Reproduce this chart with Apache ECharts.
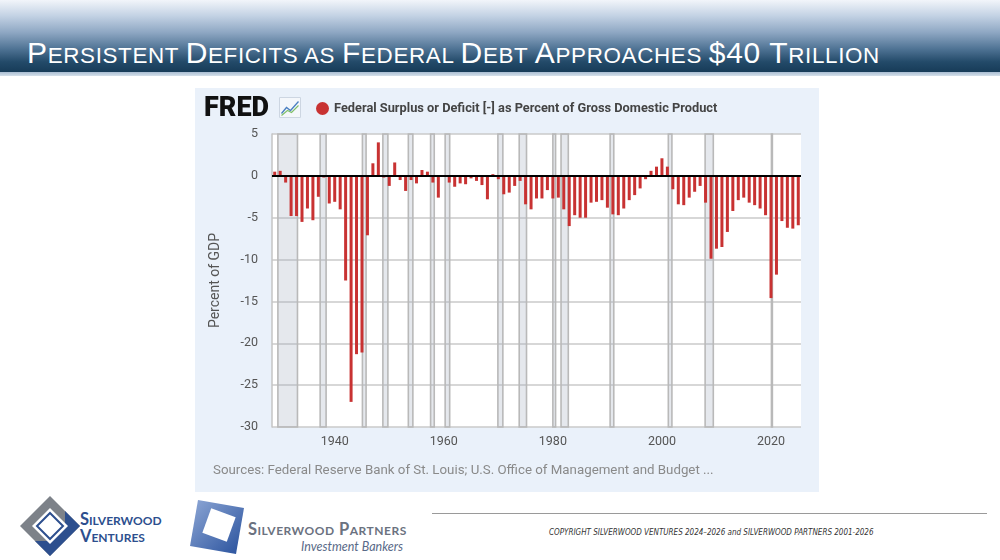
<!DOCTYPE html>
<html>
<head>
	<meta charset="utf-8">
	<title>Persistent Deficits</title>
	<script src="https://cdn.jsdelivr.net/npm/echarts@6/dist/echarts.min.js"></script>
	<style>
		body { margin: 0; width: 1000px; height: 560px; overflow: hidden; background: #fff; position: relative; font-family: "Liberation Sans", Arial, sans-serif; }
		#banner { position: absolute; left: 0; top: 0; width: 1000px; height: 72px;
			background: linear-gradient(to bottom, #f2f5fa 0%, #c3d2e4 22%, #8ea7c3 45%, #4f7394 68%, #234a69 86%, #173b58 100%); }
		#strip { position: absolute; left: 0; top: 72px; width: 1000px; height: 4px;
			background: linear-gradient(to bottom, #a9bdd2, #d5e0ea); }
		#title { position: absolute; left: 27px; top: 36px; color: #fff; font-family: "Liberation Sans", Arial, sans-serif;
			font-size: 22.4px; letter-spacing: 0.65px; white-space: nowrap; line-height: normal; }
		#title .b { font-size: 30px; }
		#chart { position: absolute; left: 195px; top: 88px; width: 624px; height: 404px; background: #eaf1fa; }
		#rule { position: absolute; left: 432px; top: 513px; width: 555px; height: 1px; background: #9a9a9a; }
		#copy { position: absolute; left: 549px; top: 528px; font-family: "Liberation Sans Narrow", "DejaVu Sans Condensed", sans-serif;
			font-style: italic; font-size: 8px; color: #333; white-space: nowrap; }
		.logo-text { position: absolute; white-space: nowrap; font-family: "Lato", "Open Sans", sans-serif; font-weight: 700; }
	</style>
</head>

<body>
	<div id="banner"></div>
	<div id="strip"></div>
	<div id="title"><span class="b">P</span>ERSISTENT <span class="b">D</span>EFICITS AS <span class="b">F</span>EDERAL <span class="b">D</span>EBT <span class="b">A</span>PPROACHES <span class="b">$40 T</span>RILLION</div>

	<div id="chart"></div>

	<!-- logos -->
	<svg style="position:absolute;left:18px;top:494px" width="64" height="64" viewBox="0 0 64 64">
		<polygon points="32,2 62,32 32,62 2,32" fill="#7d8289"/>
		<polygon points="47,17 62,32 32,62 17,47 32,47 47,32" fill="#2d4f8e"/>
		<polygon points="32,14 50,32 32,50 14,32" fill="#fff"/>
		<polygon points="32,19 45,32 32,45 19,32" fill="none" stroke="#2d4f8e" stroke-width="2"/>
	</svg>
	<div class="logo-text" style="left:80px;top:509px;color:#2d4f8e;font-size:16.5px;font-variant:small-caps;">Silverwood</div>
	<div class="logo-text" style="left:80px;top:526px;color:#2d4f8e;font-size:16.5px;font-variant:small-caps;">Ventures</div>

	<svg style="position:absolute;left:188px;top:498px" width="58" height="58" viewBox="0 0 58 58">
		<defs>
			<linearGradient id="pg" x1="0" y1="0" x2="1" y2="1">
				<stop offset="0" stop-color="#8fa8d6"/>
				<stop offset="1" stop-color="#27509c"/>
			</linearGradient>
		</defs>
		<polygon points="10,2 56,10 48,56 2,48" fill="url(#pg)"/>
		<polygon points="18,14 44,14 44,40 18,40" fill="#fff" transform="rotate(20 31 27)"/>
	</svg>
	<div class="logo-text" style="left:248px;top:519px;color:#6b7280;font-size:16.5px;font-variant:small-caps;letter-spacing:0.5px;">Silverwood Partners</div>
	<div class="logo-text" style="left:301px;top:539px;color:#5a6a88;font-size:12.5px;font-weight:400;font-style:italic;">Investment Bankers</div>

	<div id="rule"></div>
	<div id="copy">COPYRIGHT SILVERWOOD VENTURES 2024–2026 and SILVERWOOD PARTNERS 2001-2026</div>

	<script>

		// fiscal years shown on the FRED chart
		var years = [
			1929, 1930, 1931, 1932, 1933, 1934, 1935, 1936, 1937, 1938, 1939,
			1940, 1941, 1942, 1943, 1944, 1945, 1946, 1947, 1948, 1949,
			1950, 1951, 1952, 1953, 1954, 1955, 1956, 1957, 1958, 1959,
			1960, 1961, 1962, 1963, 1964, 1965, 1966, 1967, 1968, 1969,
			1970, 1971, 1972, 1973, 1974, 1975, 1976, 1977, 1978, 1979,
			1980, 1981, 1982, 1983, 1984, 1985, 1986, 1987, 1988, 1989,
			1990, 1991, 1992, 1993, 1994, 1995, 1996, 1997, 1998, 1999,
			2000, 2001, 2002, 2003, 2004, 2005, 2006, 2007, 2008, 2009,
			2010, 2011, 2012, 2013, 2014, 2015, 2016, 2017, 2018, 2019,
			2020, 2021, 2022, 2023, 2024, 2025
		]

		// surplus (+) or deficit (-), percent of GDP
		var surplus = [
			0.5, 0.6, -0.8, -4.8, -4.8, -5.5, -3.9, -5.3, -2.5, -0.2, -3.3,
			-3.1, -4.0, -12.5, -27.0, -21.3, -21.1, -7.1, 1.5, 4.0, -0.2,
			-1.2, 1.6, -0.5, -1.8, -0.5, -0.9, 0.7, 0.5, -0.8, -2.6,
			0.1, -0.8, -1.3, -0.9, -1.0, -0.3, -0.6, -1.1, -2.8, 0.2,
			-0.4, -2.2, -2.0, -1.2, -0.6, -3.4, -4.0, -2.7, -2.7, -1.7,
			-2.7, -2.6, -4.0, -6.0, -4.7, -5.0, -5.0, -3.2, -3.1, -2.9,
			-3.8, -4.6, -4.7, -3.9, -2.9, -2.3, -1.5, -0.4, 0.6, 1.1,
			2.1, 1.1, -1.6, -3.4, -3.5, -2.6, -1.9, -1.2, -3.2, -9.9,
			-8.7, -8.5, -6.7, -4.2, -2.9, -2.6, -3.2, -3.5, -3.9, -4.7,
			-14.6, -11.8, -5.4, -6.2, -6.3, -5.9
		]

		// recession periods (start, end) as decimal years
		var recessions = [
			[1929.58, 1933.17], [1937.33, 1938.42], [1945.08, 1945.75], [1948.83, 1949.75],
			[1953.5, 1954.33], [1957.58, 1958.25], [1960.25, 1961.08], [1969.92, 1970.83],
			[1973.83, 1975.17], [1980.0, 1980.5], [1981.5, 1982.83], [1990.5, 1991.17],
			[2001.17, 2001.83], [2007.92, 2009.42], [2020.08, 2020.25]
		]

		var xTicks = [1940, 1960, 1980, 2000, 2020]

		var seriesName = "Federal Surplus or Deficit [-] as Percent of Gross Domestic Product"

		var barData = years.map(function (y, i) { return [y, surplus[i]] })
		var bands = recessions.map(function (r) { return [{ xAxis: r[0] }, { xAxis: r[1] }] })

		var mCharts = echarts.init(document.getElementById("chart"))

		var opt = {
			animation: false,
			textStyle: { fontFamily: "Roboto, 'Open Sans', sans-serif" },
			grid: {
				left: 77, right: 18, top: 46, bottom: 65,
				show: true, backgroundColor: "#fff", borderWidth: 0
			},
			legend: {
				data: [seriesName],
				left: 116, top: 9,
				icon: "circle",
				itemWidth: 13, itemHeight: 13,
				itemGap: 6,
				textStyle: { fontSize: 12.8, fontWeight: "bold", color: "#444", fontFamily: "Roboto, sans-serif" }
			},
			graphic: [
				{
					type: "text", left: 9, top: 8,
					style: { text: "FRED", fontSize: 27, fontWeight: 900, fill: "#111", fontFamily: "Roboto, Inter, sans-serif" }
				},
				{
					type: "group", left: 84, top: 9,
					children: [
						{ type: "rect", shape: { x: 0, y: 0, width: 21, height: 20 }, style: { fill: "#f4f7fb", stroke: "#cdd6e2", lineWidth: 1 } },
						{ type: "polyline", shape: { points: [[2, 16], [7, 10], [11, 13], [19, 4]] }, style: { stroke: "#4a7fc1", lineWidth: 1.3, fill: null } },
						{ type: "polyline", shape: { points: [[2, 18], [8, 13], [12, 15], [19, 8]] }, style: { stroke: "#7fbf6a", lineWidth: 1.1, fill: null } }
					]
				},
				{
					type: "text", left: 18, top: 376,
					style: { text: "Sources: Federal Reserve Bank of St. Louis; U.S. Office of Management and Budget ...", fontSize: 13.3, fill: "#8a8a8a", fontFamily: "Roboto, sans-serif" }
				}
			],
			xAxis: {
				type: "value",
				min: 1928.5, max: 2025.5,
				axisLine: { show: false },
				axisTick: { show: false },
				splitLine: { show: false },
				axisLabel: {
					customValues: xTicks,
					formatter: function (v) { return String(v) },
					color: "#555", fontSize: 12.5, margin: 8
				}
			},
			yAxis: {
				type: "value",
				min: -30, max: 5, interval: 5,
				name: "Percent of GDP",
				nameLocation: "middle",
				nameGap: 50,
				nameTextStyle: { fontSize: 14, color: "#555" },
				axisLine: { show: true, lineStyle: { color: "#c4c4c4", width: 1.5 } },
				axisTick: { show: false },
				axisLabel: { color: "#555", fontSize: 12.5, margin: 14 },
				splitLine: { lineStyle: { color: "#cacaca", width: 1.5 } }
			},
			series: [
				{
					name: "recessions",
					type: "line",
					data: [],
					z: 1,
					silent: true,
					markArea: {
						silent: true,
						itemStyle: { color: "rgba(160,172,190,0.28)", borderColor: "#b9b9b9", borderWidth: 1.6 },
						data: bands
					}
				},
				{
					name: seriesName,
					type: "bar",
					data: barData,
					barWidth: 3,
					z: 3,
					itemStyle: { color: "#c83232" },
					markLine: {
						silent: true,
						symbol: "none",
						label: { show: false },
						lineStyle: { color: "#000", width: 2, type: "solid" },
						data: [{ yAxis: 0 }]
					}
				}
			]
		}

		mCharts.setOption(opt)

	</script>

</body>
</html>
